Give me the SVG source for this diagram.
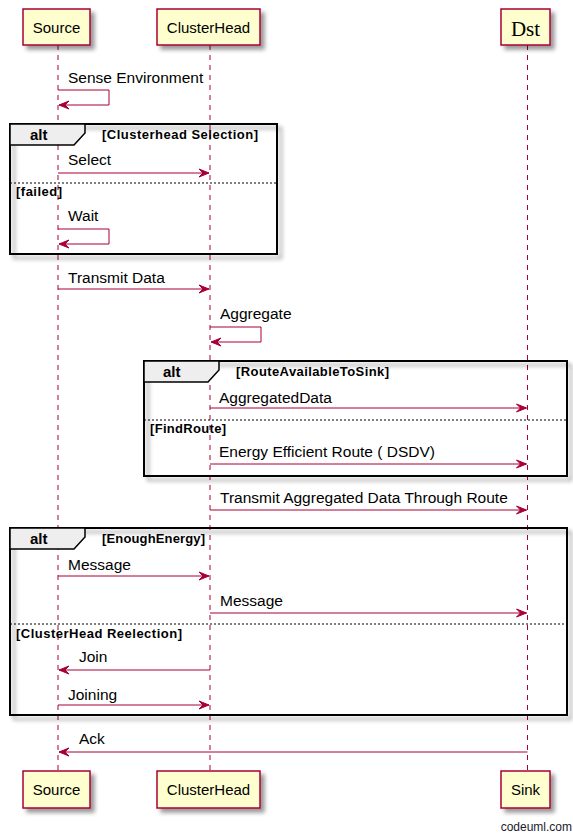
<svg xmlns="http://www.w3.org/2000/svg" width="573" height="834" viewBox="0 0 573 834">
<defs>
<filter id="sh" x="-20%" y="-20%" width="150%" height="150%"><feGaussianBlur in="SourceAlpha" stdDeviation="2"/><feOffset dx="4" dy="4"/><feComponentTransfer><feFuncA type="linear" slope="0.4"/></feComponentTransfer><feMerge><feMergeNode/><feMergeNode in="SourceGraphic"/></feMerge></filter>
<marker id="ah" markerWidth="12" markerHeight="10" refX="11" refY="5" orient="auto" markerUnits="userSpaceOnUse"><polygon points="1,1 11,5 1,9 5,5" fill="#A80036" stroke="#A80036" stroke-width="1"/></marker>
</defs>
<style>
.box{fill:#FEFECE;stroke:#A80036;stroke-width:1.5}
.life{stroke:#A80036;stroke-width:1;stroke-dasharray:5,5}
.msg{stroke:#A80036;stroke-width:1;fill:none}
.t{font-family:"Liberation Sans",Arial,sans-serif;font-size:15.5px;fill:#000}
.p{font-family:"Liberation Sans",Arial,sans-serif;font-size:15px;fill:#000}
.frame{fill:none;stroke:#000;stroke-width:2}
.tab{fill:#EEEEEE;stroke:#000;stroke-width:1.5}
.alt{font-family:"Liberation Sans",Arial,sans-serif;font-size:15px;font-weight:bold;fill:#000}
.g{font-family:"Liberation Sans",Arial,sans-serif;font-size:13px;font-weight:bold;fill:#000}
.sep{stroke:#000;stroke-width:1;stroke-dasharray:2,2}
</style>
<rect width="573" height="834" fill="#fff"/>
<g id="lifelines">
<line class="life" x1="58" y1="45" x2="58" y2="771"/>
<line class="life" x1="210" y1="45" x2="210" y2="771"/>
<line class="life" x1="527.5" y1="45" x2="527.5" y2="771"/>
</g>
<g id="frame-alt1">
<rect class="frame" x="10" y="124" width="267" height="130" filter="url(#sh)"/>
<path class="tab" d="M10,124 L85,124 L85,133 L74,145 L10,145 Z"/>
<text class="alt" x="30" y="140">alt</text>
<text class="g" x="102" y="139" textLength="156" lengthAdjust="spacing">[Clusterhead Selection]</text>
<line class="sep" x1="10" y1="183" x2="277" y2="183"/>
<text class="g" x="16" y="196" textLength="46" lengthAdjust="spacing">[failed]</text>
</g>
<g id="frame-alt2">
<rect class="frame" x="144" y="361" width="423" height="115" filter="url(#sh)"/>
<path class="tab" d="M144,361 L219,361 L219,370 L208,382 L144,382 Z"/>
<text class="alt" x="163" y="377">alt</text>
<text class="g" x="236" y="376" textLength="153" lengthAdjust="spacing">[RouteAvailableToSink]</text>
<line class="sep" x1="144" y1="420" x2="567" y2="420"/>
<text class="g" x="150" y="433" textLength="76" lengthAdjust="spacing">[FindRoute]</text>
</g>
<g id="frame-alt3">
<rect class="frame" x="10" y="528" width="557" height="187" filter="url(#sh)"/>
<path class="tab" d="M10,528 L85,528 L85,537 L74,549 L10,549 Z"/>
<text class="alt" x="30" y="544">alt</text>
<text class="g" x="102" y="543" textLength="103" lengthAdjust="spacing">[EnoughEnergy]</text>
<line class="sep" x1="10" y1="624" x2="567" y2="624"/>
<text class="g" x="16" y="638" textLength="166" lengthAdjust="spacing">[ClusterHead Reelection]</text>
</g>
<g id="connectors">
<path class="msg" d="M58,90 L109,90 L109,105 L59,105" marker-end="url(#ah)"/>
<text class="t" x="68" y="83">Sense Environment</text>
<line class="msg" x1="58" y1="173" x2="209" y2="173" marker-end="url(#ah)"/>
<text class="t" x="68" y="165">Select</text>
<path class="msg" d="M58,229 L109,229 L109,244 L59,244" marker-end="url(#ah)"/>
<text class="t" x="68" y="221">Wait</text>
<line class="msg" x1="58" y1="289" x2="209" y2="289" marker-end="url(#ah)"/>
<text class="t" x="68" y="283">Transmit Data</text>
<path class="msg" d="M210,327 L261,327 L261,342 L211,342" marker-end="url(#ah)"/>
<text class="t" x="220" y="319">Aggregate</text>
<line class="msg" x1="210" y1="408" x2="526.5" y2="408" marker-end="url(#ah)"/>
<text class="t" x="219" y="403">AggregatedData</text>
<line class="msg" x1="210" y1="464" x2="526.5" y2="464" marker-end="url(#ah)"/>
<text class="t" x="219" y="457">Energy Efficient Route ( DSDV)</text>
<line class="msg" x1="210" y1="510" x2="526.5" y2="510" marker-end="url(#ah)"/>
<text class="t" x="220" y="503">Transmit Aggregated Data Through Route</text>
<line class="msg" x1="58" y1="576" x2="209" y2="576" marker-end="url(#ah)"/>
<text class="t" x="68" y="570">Message</text>
<line class="msg" x1="210" y1="613" x2="526.5" y2="613" marker-end="url(#ah)"/>
<text class="t" x="220" y="606">Message</text>
<line class="msg" x1="210" y1="670" x2="59" y2="670" marker-end="url(#ah)"/>
<text class="t" x="79" y="662">Join</text>
<line class="msg" x1="58" y1="705" x2="209" y2="705" marker-end="url(#ah)"/>
<text class="t" x="68" y="700">Joining</text>
<line class="msg" x1="527.5" y1="752" x2="59" y2="752" marker-end="url(#ah)"/>
<text class="t" x="79" y="744">Ack</text>
</g>
<g id="source-top"><rect class="box" x="23" y="9" width="67" height="36" filter="url(#sh)"/><text class="p" x="56.5" y="33" text-anchor="middle">Source</text></g>
<g id="clusterhead-top"><rect class="box" x="157" y="9" width="103" height="36" filter="url(#sh)"/><text class="p" x="208.5" y="33" text-anchor="middle">ClusterHead</text></g>
<g id="dst-top"><rect class="box" x="501" y="9" width="49" height="36" filter="url(#sh)"/><text x="525.5" y="36" text-anchor="middle" font-family="'Liberation Serif','Times New Roman',serif" font-size="21">Dst</text></g>
<g id="source-bottom"><rect class="box" x="23" y="771" width="67" height="37" filter="url(#sh)"/><text class="p" x="56.5" y="795" text-anchor="middle">Source</text></g>
<g id="clusterhead-bottom"><rect class="box" x="157" y="771" width="103" height="37" filter="url(#sh)"/><text class="p" x="208.5" y="795" text-anchor="middle">ClusterHead</text></g>
<g id="sink-bottom"><rect class="box" x="501" y="771" width="49" height="37" filter="url(#sh)"/><text class="p" x="525.5" y="795" text-anchor="middle">Sink</text></g>
<text x="572" y="831" text-anchor="end" font-family="'Liberation Sans',Arial,sans-serif" font-size="12" fill="#1a1a2e">codeuml.com</text>
</svg>
